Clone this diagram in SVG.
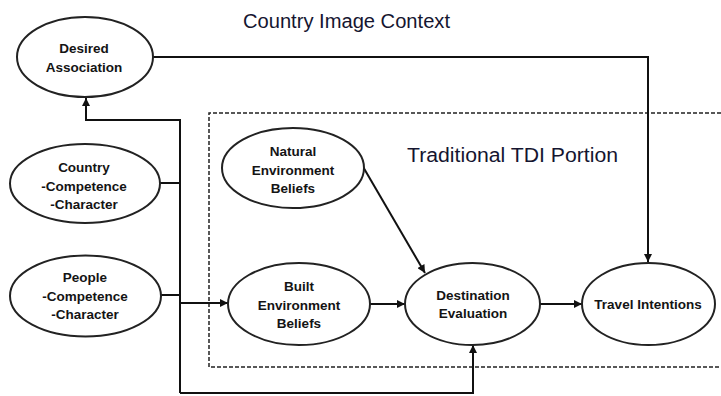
<svg xmlns="http://www.w3.org/2000/svg" width="721" height="396" viewBox="0 0 721 396">
<style>
.node ellipse{fill:#fff;stroke:#222;stroke-width:2}
.lbl{font-family:"Liberation Sans",Arial,sans-serif;font-weight:bold;font-size:13.5px;fill:#141414;text-anchor:middle}
.title{font-family:"Liberation Sans",Arial,sans-serif;font-size:20px;fill:#151530}
.con{fill:none;stroke:#111;stroke-width:2}
</style>
<defs>
<marker id="ah" viewBox="0 0 10 10" refX="10" refY="5" markerWidth="9" markerHeight="8" markerUnits="userSpaceOnUse" orient="auto">
<path d="M0,0 L10,5 L0,10 z" fill="#111"/>
</marker>
</defs>
<rect width="721" height="396" fill="#fff"/>
<text class="title" x="243" y="28" textLength="207" lengthAdjust="spacingAndGlyphs">Country Image Context</text>
<path d="M721,113 H209 V367 H721" fill="none" stroke="#222" stroke-width="1.5" stroke-dasharray="4,2"/>
<text class="title" x="407" y="162" textLength="211" lengthAdjust="spacingAndGlyphs">Traditional TDI Portion</text>
<g id="connectors">
<path class="con" d="M153,57 H648 V262" marker-end="url(#ah)"/>
<path class="con" d="M180,393 V120 H86 V98" marker-end="url(#ah)" stroke-width="2.4"/>
<path class="con" d="M160,183 H180"/>
<path class="con" d="M161,295 H180" stroke="#555" stroke-width="2.5"/>
<path class="con" d="M180,303 H228" marker-end="url(#ah)"/>
<path class="con" d="M180,393 H473 V345" marker-end="url(#ah)"/>
<path class="con" d="M362,165 L425,273" marker-end="url(#ah)" stroke-width="1.6"/>
<path class="con" d="M370,304 H405" marker-end="url(#ah)"/>
<path class="con" d="M540,304 H582" marker-end="url(#ah)"/>
</g>
<g id="desired" class="node">
<ellipse cx="85" cy="57" rx="68" ry="40"/>
<text class="lbl" x="84" y="53">Desired</text>
<text class="lbl" x="84" y="72">Association</text>
</g>
<g id="country" class="node">
<ellipse cx="85" cy="183.5" rx="75" ry="39.5"/>
<text class="lbl" x="84" y="172">Country</text>
<text class="lbl" x="84" y="191">-Competence</text>
<text class="lbl" x="84" y="209">-Character</text>
</g>
<g id="people" class="node">
<ellipse cx="85.5" cy="296" rx="75.5" ry="40.5"/>
<text class="lbl" x="85" y="282">People</text>
<text class="lbl" x="85" y="301">-Competence</text>
<text class="lbl" x="85" y="319">-Character</text>
</g>
<g id="natural" class="node">
<ellipse cx="293" cy="168" rx="71" ry="40"/>
<text class="lbl" x="293" y="156">Natural</text>
<text class="lbl" x="293" y="175">Environment</text>
<text class="lbl" x="293" y="193">Beliefs</text>
</g>
<g id="built" class="node">
<ellipse cx="299" cy="304" rx="71" ry="41"/>
<text class="lbl" x="299" y="291">Built</text>
<text class="lbl" x="299" y="310">Environment</text>
<text class="lbl" x="299" y="328">Beliefs</text>
</g>
<g id="destination" class="node">
<ellipse cx="472.5" cy="304" rx="67.5" ry="41"/>
<text class="lbl" x="473" y="300">Destination</text>
<text class="lbl" x="473" y="318">Evaluation</text>
</g>
<g id="travel" class="node">
<ellipse cx="648.5" cy="304" rx="66.5" ry="41"/>
<text class="lbl" x="648" y="309">Travel Intentions</text>
</g>
</svg>
